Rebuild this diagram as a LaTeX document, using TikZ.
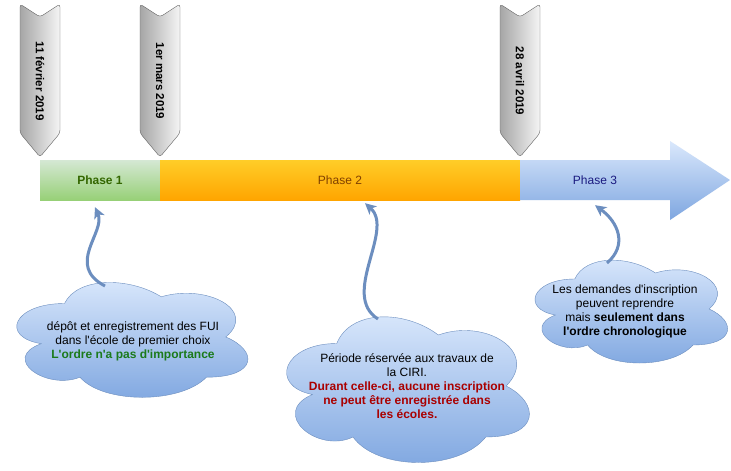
\documentclass[tikz,border=0pt]{standalone}
\usepackage{fontspec}
\setmainfont{Liberation Sans}[Ligatures=TeXOff]
\usepackage{tikz}
\usetikzlibrary{arrows.meta}
\usepackage{xcolor}

\definecolor{vertH}{HTML}{D5E8D4}
\definecolor{vertB}{HTML}{97D077}
\definecolor{vertT}{HTML}{336600}
\definecolor{orH}{HTML}{FFCD28}
\definecolor{orB}{HTML}{FFA500}
\definecolor{orT}{HTML}{804000}
\definecolor{bleuH}{HTML}{DAE8FC}
\definecolor{bleuB}{HTML}{7EA6E0}
\definecolor{bleuT}{HTML}{1A1A80}
\definecolor{bleuL}{HTML}{6C8EBF}
\definecolor{rougeT}{HTML}{AA0000}
\definecolor{vertC}{HTML}{1B7A1B}

\tikzset{
  phase/.style={minimum height=40pt, inner sep=0pt, font=\fontsize{12}{14}\selectfont},
  jalon/.style={draw=black!60, left color=gray!70, right color=gray!8, rounded corners=3pt},
  datetxt/.style={rotate=-90, font=\fontsize{11.5}{13}\selectfont\bfseries},
  nuagefond/.style={draw=bleuL, top color=bleuH, bottom color=bleuB},
  bulle/.style={align=center, font=\fontsize{12}{14}\selectfont},
  fleche/.style={bleuL, line width=3pt, -{Stealth[length=11pt, width=11pt, inset=3pt]}}
}

% nuage facon draw.io : coin haut gauche x, y, largeur, hauteur
\newcommand{\nuage}[4]{%
  \path[nuagefond, shift={(#1,#2)}, x=#3pt, y=-#4pt]
    (0.25,0.25) .. controls (0.05,0.25) and (0,0.5) .. (0.16,0.55)
    .. controls (0,0.66) and (0.18,0.9) .. (0.31,0.8)
    .. controls (0.4,1) and (0.7,1) .. (0.8,0.8)
    .. controls (1,0.8) and (1,0.6) .. (0.875,0.5)
    .. controls (1,0.3) and (0.8,0.1) .. (0.625,0.2)
    .. controls (0.5,0.05) and (0.3,0.05) .. (0.25,0.25) -- cycle;}

\begin{document}
\begin{tikzpicture}[x=1pt, y=-1pt]
    \useasboundingbox[fill=white] (0,0) rectangle (731,471);
    % jalons (dates)
    \foreach \xd/\dt/\nm in {40/11 février 2019/dA, 160/1er mars 2019/dB, 520/28 avril 2019/dC}{
        \path[jalon] (\xd-20,4) -- (\xd,17) -- (\xd+20,4) -- (\xd+20,133) -- (\xd,157) -- (\xd-20,133) -- cycle;
        \node[datetxt] (\nm) at (\xd,81) {\dt};
    }
    % barre des phases
    \node[phase, minimum width=120pt, top color=vertH, bottom color=vertB, text=vertT, font=\fontsize{12}{14}\selectfont\bfseries] (phA) at (100,180) {Phase 1};
    \node[phase, minimum width=360pt, top color=orH, bottom color=orB, text=orT] (phB) at (340,180) {Phase 2};
    %flèche de la phase 3
    \path[top color=bleuH, bottom color=bleuB] (520,160) -- (670,160) -- (670,141) -- (730,180) -- (670,220) -- (670,200) -- (520,200) -- cycle;
    \node[phase, minimum width=150pt, text=bleuT] (phC) at (595,180) {Phase 3};
    % nuages
    \nuage{0}{270}{258}{134}
    \nuage{269}{301}{271}{170}
    \nuage{521}{249}{215}{120}
    \node[bulle] (t1) at (133,341) {dépôt et enregistrement des FUI\\dans l'école de premier choix\\\textcolor{vertC}{\bfseries L'ordre n'a pas d'importance}};
    \node[bulle] (t2) at (407,386) {Période réservée aux travaux de\\la CIRI.\\\textcolor{rougeT}{\bfseries Durant celle-ci, aucune inscription}\\\textcolor{rougeT}{\bfseries ne peut être enregistrée dans}\\\textcolor{rougeT}{\bfseries les écoles.}};
    \node[bulle] (t3) at (625,311) {Les demandes d'inscription\\peuvent reprendre\\mais \textbf{seulement dans}\\\textbf{l'ordre chronologique}};
    % flèches vers les phases
    \coordinate (n1) at (105,286);
    \coordinate (n2) at (378,319);
    \coordinate (n3) at (607,263);
    \draw[fleche] (n1) .. controls (65,265) and (106,232) .. ([xshift=-5pt, yshift=-7pt]phA.south);
    \draw[fleche] (n2) .. controls (340,295) and (395,230) .. ([xshift=25pt, yshift=-3pt]phB.south);
    \draw[fleche] (n3) .. controls (628,245) and (618,222) .. ([yshift=-5pt]phC.south);
\end{tikzpicture}
\end{document}
